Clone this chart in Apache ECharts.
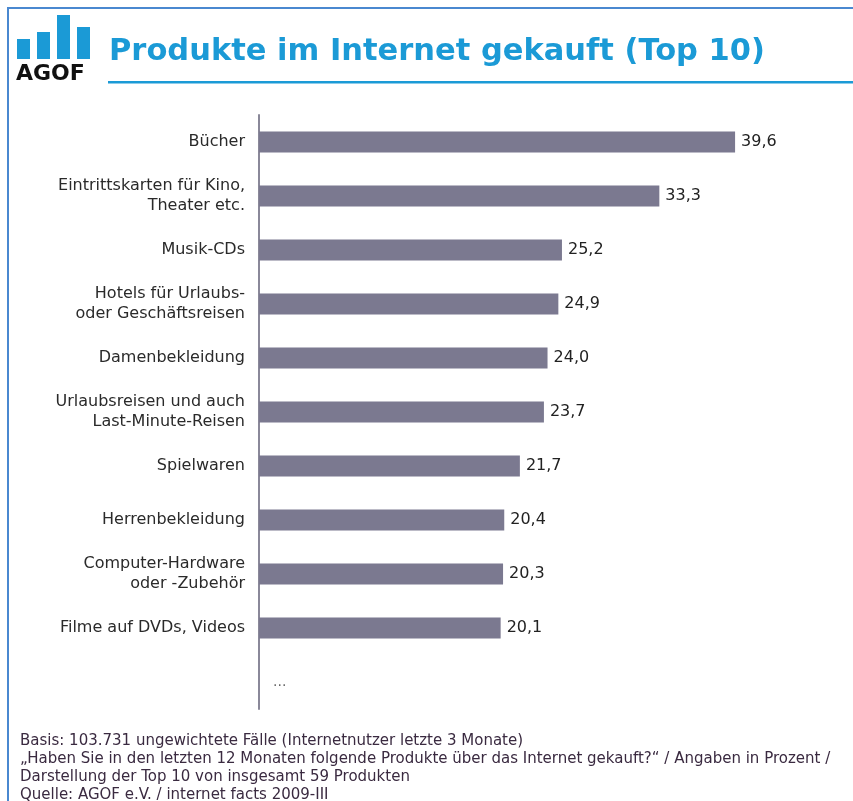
<!DOCTYPE html>
<html>
<head>
<meta charset="utf-8">
<script src="https://cdn.jsdelivr.net/npm/echarts@6/dist/echarts.min.js"></script>
<style>
html,body{margin:0;padding:0;background:#fff;}
#chart{width:853px;height:801px;}
</style>
</head>
<body>
<div id="chart"></div>
<script>
const categories = [
  'Bücher',
  'Eintrittskarten für Kino,\nTheater etc.',
  'Musik-CDs',
  'Hotels für Urlaubs-\noder Geschäftsreisen',
  'Damenbekleidung',
  'Urlaubsreisen und auch\nLast-Minute-Reisen',
  'Spielwaren',
  'Herrenbekleidung',
  'Computer-Hardware\noder -Zubehör',
  'Filme auf DVDs, Videos',
  ''
];
const values = [39.6, 33.3, 25.2, 24.9, 24.0, 23.7, 21.7, 20.4, 20.3, 20.1, 0];
const valueLabels = ['39,6', '33,3', '25,2', '24,9', '24,0', '23,7', '21,7', '20,4', '20,3', '20,1', '...'];
const footnotes = [
  'Basis: 103.731 ungewichtete Fälle (Internetnutzer letzte 3 Monate)',
  '„Haben Sie in den letzten 12 Monaten folgende Produkte über das Internet gekauft?“ / Angaben in Prozent /',
  'Darstellung der Top 10 von insgesamt 59 Produkten',
  'Quelle: AGOF e.V. / internet facts 2009-III'
];

const blue = '#1b9ad6';
const chart = echarts.init(document.getElementById('chart'), null, {renderer: 'canvas'});

const footGraphics = footnotes.map((t, i) => ({
  type: 'text', left: 20, top: 734 + i * 18,
  style: {text: t, font: '15px "DejaVu Sans"', fill: '#3a2a40'}
}));

const barData = values.map((v, i) => {
  const item = {value: v};
  if (valueLabels[i] === '...') {
    item.label = {distance: 14, color: '#666', fontSize: 14};
  }
  return item;
});

chart.setOption({
  animation: false,
  grid: {left: 259, top: 115, width: 541, height: 594},
  xAxis: {type: 'value', min: 0, max: 45, show: false},
  yAxis: {
    type: 'category', data: categories, inverse: true,
    axisLine: {show: true, lineStyle: {color: '#8a8899', width: 2}},
    axisTick: {show: false},
    axisLabel: {
      color: '#2a2a2a', fontFamily: 'DejaVu Sans', fontSize: 16,
      lineHeight: 20, margin: 14, align: 'right'
    }
  },
  series: [{
    type: 'bar', data: barData, barWidth: 21,
    itemStyle: {color: '#7b7990'},
    label: {
      show: true, position: 'right', distance: 6,
      color: '#222', fontFamily: 'DejaVu Sans', fontSize: 16,
      formatter: p => valueLabels[p.dataIndex]
    }
  }],
  graphic: [
    {type: 'rect', shape: {x: 7, y: 7, width: 2, height: 800}, style: {fill: '#4a88d0'}},
    {type: 'rect', shape: {x: 7, y: 7, width: 846, height: 2}, style: {fill: '#4a88d0'}},
    {type: 'rect', shape: {x: 17, y: 39, width: 13, height: 20}, style: {fill: blue}},
    {type: 'rect', shape: {x: 37, y: 32, width: 13, height: 27}, style: {fill: blue}},
    {type: 'rect', shape: {x: 57, y: 15, width: 13, height: 44}, style: {fill: blue}},
    {type: 'rect', shape: {x: 77, y: 27, width: 13, height: 32}, style: {fill: blue}},
    {type: 'text', left: 16, top: 63, style: {text: 'AGOF', font: 'bold 22px "DejaVu Sans"', fill: '#111'}},
    {type: 'text', left: 109, top: 37, style: {text: 'Produkte im Internet gekauft (Top 10)', font: 'bold 30.5px "DejaVu Sans"', fill: blue}},
    {type: 'rect', shape: {x: 108, y: 81, width: 745, height: 2.5}, style: {fill: blue}},
    ...footGraphics
  ]
});
</script>
</body>
</html>
